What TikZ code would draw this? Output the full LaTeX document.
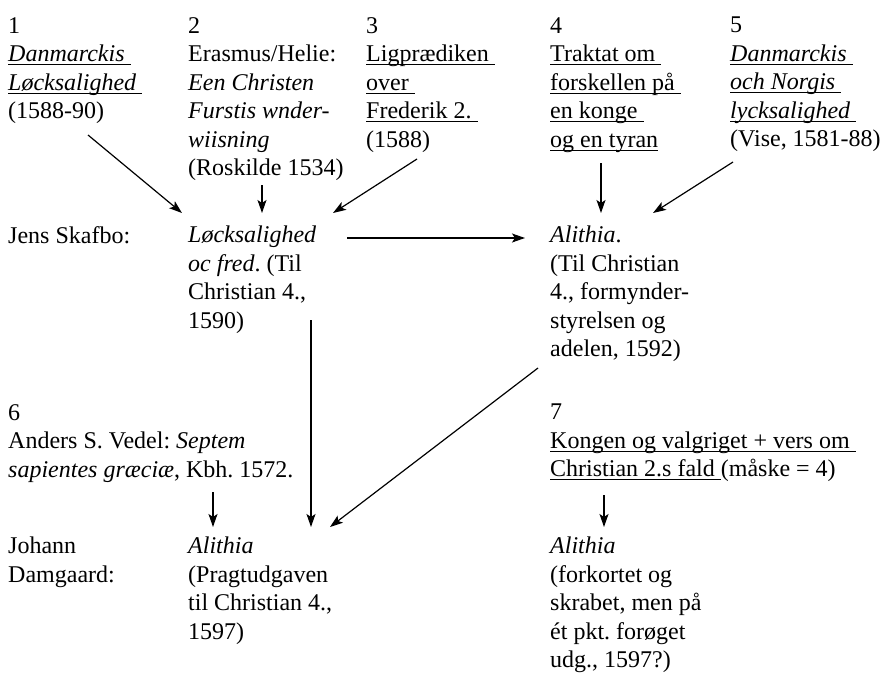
\documentclass[tikz,border=0pt]{standalone}
\usepackage{fontspec}
\setmainfont{Liberation Serif}
\usetikzlibrary{arrows.meta}
\frenchspacing
\newsavebox\undlbox
\newcommand\undl[1]{\sbox\undlbox{#1}\rlap{\rule[-3.5pt]{\wd\undlbox}{1pt}}\usebox\undlbox}
\begin{document}
\begin{tikzpicture}[x=1pt,y=-1pt,
    txt/.style={anchor=north west,inner sep=0pt,align=left,font=\fontsize{24}{28.5}\selectfont},
    arr/.style={-{Stealth[length=13pt,width=9pt,inset=3pt]},line width=1.2pt}]
  \useasboundingbox (0,0) rectangle (886,675);
  % sources
  \node[txt] (src1) at (8,17) {1\\ \undl{\textit{Danmarckis}\ }\\ \undl{\textit{Løcksalighed}\ }\\ (1588-90)};
  \node[txt] (src2) at (188,17) {2\\ Erasmus/Helie:\\ \textit{Een Christen}\\ \textit{Furstis wnder-}\\ \textit{wiisning}\\ (Roskilde 1534)};
  \node[txt] (src3) at (366,17) {3\\ \undl{Ligprædiken\ }\\ \undl{over\ }\\ \undl{Frederik 2.\ }\\ (1588)};
  \node[txt] (src4) at (550,17) {4\\ \undl{Traktat om\ }\\ \undl{forskellen på\ }\\ \undl{en konge\ }\\ \undl{og en tyran}};
  \node[txt] (src5) at (730,17) {5\\ \undl{\textit{Danmarckis}\ }\\ \undl{\textit{och Norgis}\ }\\ \undl{\textit{lycksalighed}\ }\\ (Vise, 1581-88)};
  % Skafbo
  \node[txt] (skafbo) at (8,226) {Jens Skafbo:};
  \node[txt] (lykke) at (188,226) {\textit{Løcksalighed}\\ \textit{oc fred}. (Til\\ Christian 4.,\\ 1590)};
  \node[txt] (alithia) at (550,226) {\textit{Alithia}.\\ (Til Christian\\ 4., formynder-\\ styrelsen og\\ adelen, 1592)};
  % 6 and 7
  \node[txt] (src6) at (8,404) {6\\ Anders S. Vedel: \textit{Septem}\\ \textit{sapientes græciæ}, Kbh. 1572.};
  \node[txt] (src7) at (550,404) {7\\ \undl{Kongen og valgriget + vers om\ }\\ \undl{Christian 2.s fald\ }(måske = 4)};
  % Damgaard
  \node[txt] (damgaard) at (8,537) {Johann\\ Damgaard:};
  \node[txt] (pragt) at (188,537) {\textit{Alithia}\\ (Pragtudgaven\\ til Christian 4.,\\ 1597)};
  \node[txt] (forkort) at (550,537) {\textit{Alithia}\\ (forkortet og\\ skrabet, men på\\ ét pkt. forøget\\ udg., 1597?)};
  % arrows
  \draw[arr] ([shift={(80,118)}]src1.north west) -- ([shift={(-6,-13)}]lykke.north west);
  \draw[arr] ([shift={(74,168)}]src2.north west) -- ([shift={(74,-13)}]lykke.north west);
  \draw[arr] ([shift={(51,142)}]src3.north west) -- ([shift={(145,-13)}]lykke.north west);
  \draw[arr] ([shift={(51,146)}]src4.north west) -- ([shift={(51,-13)}]alithia.north west);
  \draw[arr] ([shift={(3,145)}]src5.north west) -- ([shift={(103,-13)}]alithia.north west);
  \draw[arr] ([shift={(159,12)}]lykke.north west) -- ([shift={(-25,12)}]alithia.north west);
  \draw[arr] ([shift={(123,94)}]lykke.north west) -- ([shift={(123,-10)}]pragt.north west);
  \draw[arr] ([shift={(-12,142)}]alithia.north west) -- ([shift={(142,-10)}]pragt.north west);
  \draw[arr] ([shift={(205,88)}]src6.north west) -- ([shift={(25,-10)}]pragt.north west);
  \draw[arr] ([shift={(54,91)}]src7.north west) -- ([shift={(54,-10)}]forkort.north west);
\end{tikzpicture}
\end{document}
